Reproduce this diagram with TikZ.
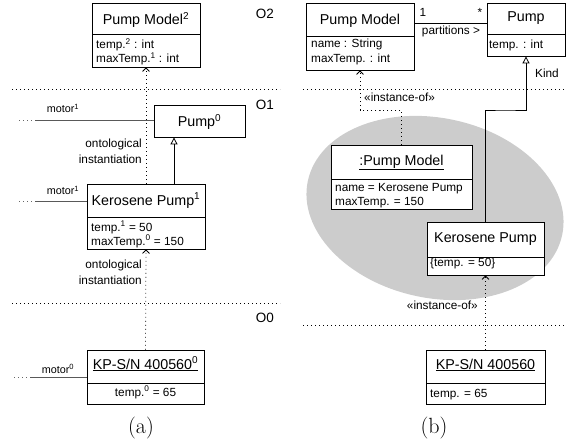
\documentclass[tikz,border=0pt]{standalone}
\usepackage{fontspec}
\newfontfamily\arialf{Liberation Sans}
\usetikzlibrary{arrows.meta,fit}
\tikzset{
 cls/.style={draw=black, line width=0.8pt, inner sep=0pt, fill=white},
 ttl/.style={font=\arialf\fontsize{14.3}{16}\selectfont, inner sep=0pt, anchor=base},
 att/.style={font=\arialf\fontsize{11.8}{14}\selectfont, inner sep=0pt, anchor=base west},
 lbl/.style={font=\arialf\fontsize{11.8}{14}\selectfont, inner sep=0pt},
 mlbl/.style={font=\arialf\fontsize{10.8}{12}\selectfont, inner sep=0pt, anchor=base},
 olbl/.style={font=\arialf\fontsize{13.5}{15}\selectfont, inner sep=0pt, anchor=base},
 caplbl/.style={font=\fontsize{22}{24}\selectfont, inner sep=0pt, anchor=base},
 dots/.style={line width=0.8pt, dash pattern=on 0.8pt off 3.2pt},
 inst/.style={dots, -{Straight Barb[length=3.5pt,width=7pt,line width=0.8pt]}},
 gen/.style={line width=0.8pt, -{Triangle[open,length=7pt,width=7pt,fill=white]}},
 motorln/.style={line width=0.9pt, draw=black!65},
 motordots/.style={dots, draw=black!60},
}
\begin{document}
\begin{tikzpicture}[x=1pt,y=-1pt]
\useasboundingbox (0,0) rectangle (566,444);

% ================= (a) =================
\draw[dots] (12,89) -- (280,89);
\draw[dots] (12,303) -- (280,303);
\node[olbl] (o2) at (265,19) {O2};
\node[olbl] (o1) at (265,110) {O1};
\node[olbl] (o0) at (265,322) {O0};

% Pump Model^2
\node[cls, fit={(92,3) (200,67)}] (pm2) {};
\draw[line width=0.8pt] (92,34) -- (200,34);
\node[ttl] (pm2t) at (146,25) {Pump Model\textsuperscript{2}};
\node[att] (pm2a) at (96,49) {temp.\textsuperscript{2} : int};
\node[att] (pm2b) at (96,63) {maxTemp.\textsuperscript{1} : int};

% Pump^0
\node[cls, fit={(154,105) (245,137)}] (p0) {};
\node[ttl] (p0t) at (199.5,127) {Pump\textsuperscript{0}};

% Kerosene Pump^1
\node[cls, fit={(87,184) (205,249)}] (kp1) {};
\draw[line width=0.8pt] (87,217) -- (205,217);
\node[ttl] (kp1t) at (146,205) {Kerosene Pump\textsuperscript{1}};
\node[att] (kp1a) at (91,231) {temp.\textsuperscript{1} = 50};
\node[att] (kp1b) at (91,245) {maxTemp.\textsuperscript{0} = 150};

% KP-S/N 400560^0
\node[cls, fit={(87,350) (204,404)}] (kps) {};
\draw[line width=0.8pt] (87,383) -- (204,383);
\node[ttl] (kpst) at (145.5,369) {\underline{KP-S/N 400560\textsuperscript{0}}};
\node[lbl, anchor=base] (kpsa) at (145.5,396) {temp.\textsuperscript{0} = 65};

% connectors (a)
\coordinate (g1) at (174,0);
\draw[gen] (kp1.north -| g1) -- (p0.south -| g1);
\draw[inst] (kp1.north) -- (pm2.south);
\draw[inst] (kps.north) -- (kp1.south);
\node[lbl, anchor=base east] (on1) at (142,148) {ontological};
\node[lbl, anchor=base east] (in1) at (142,164) {instantiation};
\node[lbl, anchor=base east] (on2) at (142,269) {ontological};
\node[lbl, anchor=base east] (in2) at (142,284) {instantiation};

% motors
\coordinate (m1a) at (19,120);
\coordinate (m1b) at (35,120);
\draw[motordots] (m1a) -- (m1b);
\draw[motorln] (m1b) -- (p0.west |- m1b);
\node[mlbl] (m1l) at (63,113) {motor\textsuperscript{1}};

\coordinate (m2a) at (19,201);
\coordinate (m2b) at (35,201);
\draw[motordots] (m2a) -- (m2b);
\draw[motorln] (m2b) -- (kp1.west |- m2b);
\node[mlbl] (m2l) at (63,195) {motor\textsuperscript{1}};

\coordinate (m3a) at (14,377);
\coordinate (m3b) at (30,377);
\draw[motordots] (m3a) -- (m3b);
\draw[motorln] (m3b) -- (kps.west |- m3b);
\node[mlbl] (m3l) at (58,373) {motor\textsuperscript{0}};

\node[caplbl] (capa) at (141,433) {(a)};

% ================= (b) =================
\fill[gray!40, rotate around={-12:(435,208)}] (435,208) ellipse [x radius=130, y radius=90];
\draw[dots] (303,89) -- (566,89);
\draw[dots] (303,325) -- (566,325);

% Pump Model
\node[cls, fit={(306,3) (414,70)}] (pmb) {};
\draw[line width=0.8pt] (306,36) -- (414,36);
\node[ttl] (pmbt) at (360,25) {Pump Model};
\node[att] (pmba) at (311,48) {name : String};
\node[att] (pmbb) at (311,63) {maxTemp. : int};

% Pump
\node[cls, fit={(487,3) (565,56)}] (pb) {};
\draw[line width=0.8pt] (487,34) -- (565,34);
\node[ttl] (pbt) at (526,22) {Pump};
\node[att] (pba) at (489,49) {temp. : int};

% association
\coordinate (asy) at (0,23);
\draw[line width=0.8pt] (pmb.east |- asy) -- (pb.west |- asy);
\node[lbl, anchor=base] (m1) at (423,17) {1};
\node[lbl, anchor=base] (mst) at (480,17) {*};
\node[lbl, anchor=base] (part) at (451,35) {partitions >};

% :Pump Model
\node[cls, fit={(331,145) (472,209)}] (pmi) {};
\draw[line width=0.8pt] (331,179) -- (472,179);
\node[ttl] (pmit) at (401.5,165) {\underline{:Pump Model}};
\node[att] (pmia) at (335,191) {name = Kerosene Pump};
\node[att] (pmib) at (335,205) {maxTemp. = 150};

% Kerosene Pump
\node[cls, fit={(427,222) (544,275)}] (kpb) {};
\draw[line width=0.8pt] (427,257) -- (544,257);
\node[ttl] (kpbt) at (485.5,242) {Kerosene Pump};
\node[att] (kpba) at (430,266) {\{temp. = 50\}};

% KP-S/N 400560
\node[cls, fit={(426,350) (545,404)}] (kpsb) {};
\draw[line width=0.8pt] (426,383) -- (545,383);
\node[ttl] (kpsbt) at (485.5,369) {\underline{KP-S/N 400560}};
\node[att] (kpsba) at (430,397) {temp. = 65};

% connectors (b)
\coordinate (instc) at (380,110);
\draw[inst] (pmi.north) |- (instc) -| (pmb.south);
\node[lbl, anchor=base west] (iol1) at (364,102) {«instance-of»};
\coordinate (kindc) at (505,110);
\draw[gen, draw=black] (kpb.north) |- (kindc) -| (pb.south);
\node[lbl, anchor=base] (kind) at (547,78) {Kind};
\draw[inst] (kpsb.north) -- (kpb.south);
\node[lbl, anchor=base east] (iol2) at (478,309) {«instance-of»};

\node[caplbl] (capb) at (434,433) {(b)};
\end{tikzpicture}
\end{document}
